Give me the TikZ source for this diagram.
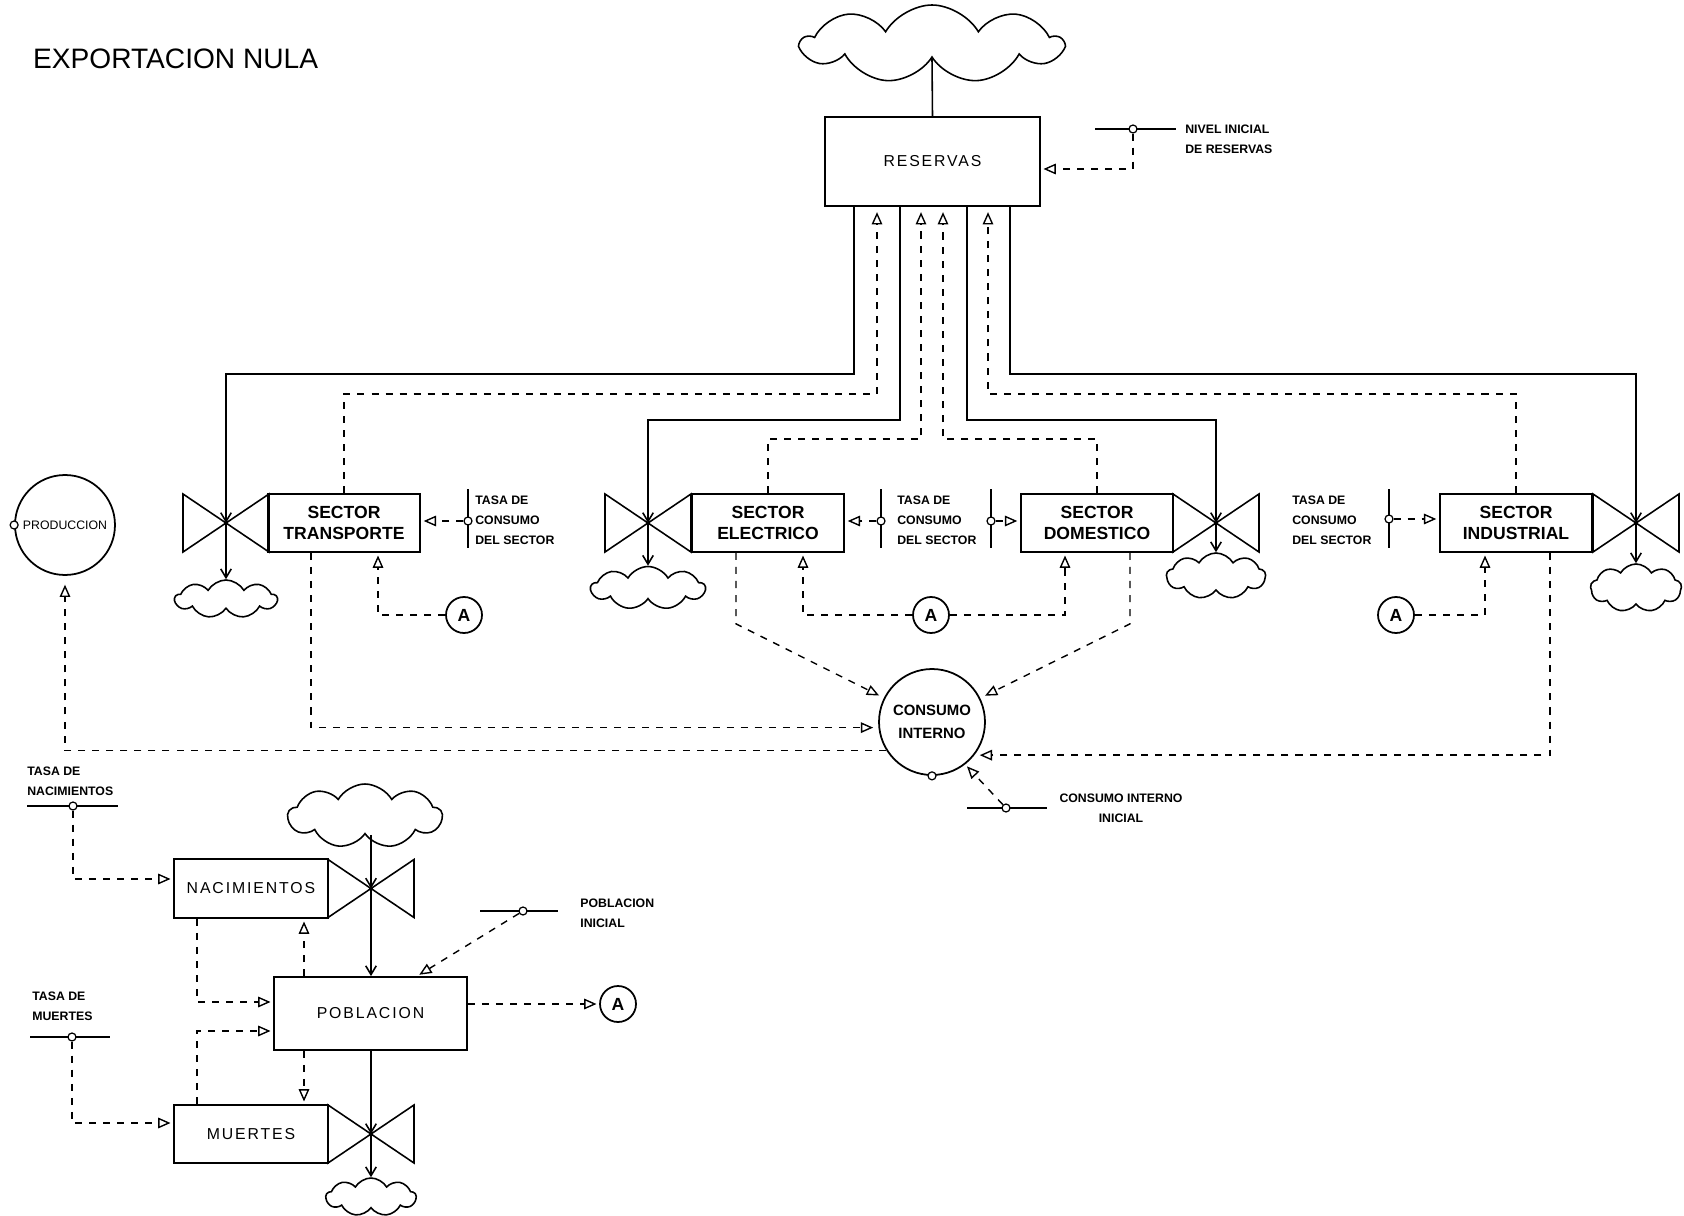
\documentclass[tikz,border=0pt]{standalone}
\usepackage{fontspec}
\setmainfont{Liberation Sans}
\newfontfamily\espaciada[LetterSpace=12]{Liberation Sans}
\usetikzlibrary{shapes.symbols,arrows.meta}

\begin{document}
\begin{tikzpicture}[x=0.02cm, y=-0.02cm,
    nivel/.style={draw, line width=1pt, inner sep=0pt, align=center},
    sector/.style={nivel, minimum width=3.05cm, minimum height=1.16cm, font=\fontsize{10}{12.2}\selectfont\bfseries},
    caja/.style={nivel, font=\fontsize{9}{11}\selectfont\espaciada},
    nube/.style={cloud, draw, line width=0.9pt, cloud puffs=9, cloud puff arc=120, inner sep=0pt},
    auxiliar/.style={circle, draw, line width=1pt, inner sep=0pt, align=center},
    conector/.style={circle, draw, line width=1pt, minimum size=0.72cm, inner sep=0pt, font=\fontsize{10}{10}\selectfont\bfseries},
    flujo/.style={line width=0.9pt, -{Straight Barb[length=5pt,width=6pt]}},
    info/.style={line width=0.8pt, dash pattern=on 4pt off 4pt, -{Triangle[open,length=7pt,width=6pt]}, shorten >=1.5pt},
    etiqueta/.style={font=\fontsize{7}{11.3}\selectfont\bfseries, align=left, inner sep=0pt},
    punto/.style={circle, draw, line width=0.7pt, fill=white, minimum size=0.16cm, inner sep=0pt},
    valvula/.pic={\draw[line width=0.9pt] (-43,-29) -- (-43,29) -- (43,-29) -- (43,29) -- cycle;}
  ]
  \useasboundingbox (0,0) rectangle (1684,1216);

  % Titulo
  \node[anchor=west, font=\fontsize{16}{16}\selectfont] (titulo) at (27,59) {EXPORTACION NULA};

  % Nivel de reservas con su fuente
  \node[caja, minimum width=4.3cm, minimum height=1.78cm] (res) at (932.5,161.5) {RESERVAS};
  \node[nube, minimum width=5.2cm, minimum height=1.56cm] (cR) at (932,44) {};
  \draw[line width=0.9pt] (cR.south) -- (res.north);

  % Nivel inicial de reservas
  \draw[line width=0.8pt] (1095,129) -- (1176,129);
  \node[punto] (ni) at (1133,129) {};
  \node[etiqueta, anchor=west] (lni) at (1185,139) {NIVEL INICIAL\\DE RESERVAS};
  \draw[info] (ni) |- (res.east |- 0,169);

  % Puntos de salida bajo las reservas
  \foreach \n/\x in {r1/854,r2/877,r3/900,r4/921,r5/943,r6/967,r7/988,r8/1010}
    \coordinate (\n) at (res.south -| \x,0);

  % Sectores de consumo
  \node[sector] (T) at (344,523) {SECTOR\\TRANSPORTE};
  \node[sector] (E) at (768,523) {SECTOR\\ELECTRICO};
  \node[sector] (D) at (1097,523) {SECTOR\\DOMESTICO};
  \node[sector] (I) at (1516,523) {SECTOR\\INDUSTRIAL};

  % Valvulas de los sectores
  \coordinate (vT) at (226,523);
  \coordinate (vE) at (648,523);
  \coordinate (vD) at (1216,523);
  \coordinate (vI) at (1636,523);
  \foreach \v in {vT,vE,vD,vI}
    \pic at (\v) {valvula};

  % Sumideros
  \node[nube, minimum width=2.04cm, minimum height=0.76cm] (cT) at (226,599) {};
  \node[nube, minimum width=2.28cm, minimum height=0.86cm] (cE) at (648,588) {};
  \node[nube, minimum width=1.98cm, minimum height=0.92cm] (cD) at (1216,576) {};
  \node[nube, minimum width=1.82cm, minimum height=0.96cm] (cI) at (1636,588) {};

  % Flujos desde las reservas
  \draw[flujo] (r1) -- ++(0,167) -| (vT);
  \draw[flujo] (r3) -- ++(0,213) -| (vE);
  \draw[flujo] (r6) -- ++(0,213) -| (vD);
  \draw[flujo] (r8) -- ++(0,167) -| (vI);
  \foreach \v/\c in {vT/cT,vE/cE,vD/cD,vI/cI}
    \draw[flujo] (\v) -- (\c);

  % Informacion de los sectores hacia las reservas
  \draw[info, shorten >=3pt] (T.north) -- ++(0,-99) -| (r2);
  \draw[info, shorten >=3pt] (E.north) -- ++(0,-54) -| (r4);
  \draw[info, shorten >=3pt] (D.north) -- ++(0,-54) -| (r5);
  \draw[info, shorten >=3pt] (I.north) -- ++(0,-99) -| (r7);

  % Tasas de consumo de cada sector
  \draw[line width=0.8pt] (468,489) -- (468,548);
  \node[punto] (tT) at (468,521) {};
  \node[etiqueta, anchor=west] (lT) at (475,520) {TASA DE\\CONSUMO\\DEL SECTOR};
  \draw[info] (tT) -- (T.east |- tT);

  \draw[line width=0.8pt] (881,489) -- (881,548);
  \draw[line width=0.8pt] (991,489) -- (991,548);
  \node[punto] (tE) at (881,521) {};
  \node[punto] (tD) at (991,521) {};
  \node[etiqueta, anchor=west] (lED) at (897,520) {TASA DE\\CONSUMO\\DEL SECTOR};
  \draw[info] (tE) -- (E.east |- tE);
  \draw[info] (tD) -- (D.west |- tD);

  \draw[line width=0.8pt] (1389,489) -- (1389,548);
  \node[punto] (tI) at (1389,519) {};
  \node[etiqueta, anchor=west] (lI) at (1292,520) {TASA DE\\CONSUMO\\DEL SECTOR};
  \draw[info] (tI) -- (I.west |- tI);

  % Conectores A hacia los sectores
  \node[conector] (aT) at (464,615) {A};
  \node[conector] (aED) at (931,615) {A};
  \node[conector] (aI) at (1396,615) {A};
  \draw[info] (aT) -| (T.south -| 378,0);
  \draw[info] (aED) -| (E.south -| 803,0);
  \draw[info] (aED) -| (D.south -| 1065,0);
  \draw[info] (aI) -| (I.south -| 1485,0);

  % Consumo interno y produccion
  \node[auxiliar, minimum size=2.12cm, font=\fontsize{8.5}{13.4}\selectfont\bfseries] (CI) at (932,722) {CONSUMO\\INTERNO};
  \node[auxiliar, minimum size=2cm, font=\fontsize{7}{7}\selectfont] (P) at (65,525) {PRODUCCION};
  \node[punto] (pP) at (P.west) {};
  \node[punto] (pCI) at (CI.south) {};

  \draw[info, shorten >=3pt] (T.south -| 311,0) |- (CI.186);
  \draw[info, shorten >=3pt] (E.south -| 736,0) -- ++(0,71) -- (CI);
  \draw[info, shorten >=3pt] (D.south -| 1130,0) -- ++(0,71) -- (CI);
  \draw[info, shorten >=3pt] (I.south -| 1550,0) |- (CI.-38);
  \draw[info, shorten >=5pt] (CI.212) -| (P.south);

  % Consumo interno inicial
  \draw[line width=0.8pt] (967,808) -- (1047,808);
  \node[punto] (ci0) at (1006,808) {};
  \node[etiqueta, align=center] (lci) at (1121,808) {CONSUMO INTERNO\\INICIAL};
  \draw[info] (ci0) -- (CI.-52);

  % Poblacion
  \node[nube, minimum width=3.08cm, minimum height=1.28cm] (cN) at (365,816) {};
  \node[caja, minimum width=3.08cm, minimum height=1.18cm] (N) at (251,888.5) {NACIMIENTOS};
  \node[caja, minimum width=3.86cm, minimum height=1.46cm] (Pob) at (370.5,1013.5) {POBLACION};
  \node[caja, minimum width=3.08cm, minimum height=1.16cm] (M) at (251,1134) {MUERTES};
  \node[nube, minimum width=1.8cm, minimum height=0.76cm] (cM) at (371,1197) {};
  \coordinate (vN) at (371,888.5);
  \coordinate (vM) at (371,1134);
  \pic at (vN) {valvula};
  \pic at (vM) {valvula};

  \draw[flujo] (cN.south -| vN) -- (vN);
  \draw[flujo] (vN) -- (Pob.north -| vN);
  \draw[flujo] (Pob.south -| vM) -- (vM);
  \draw[flujo] (vM) -- (cM);

  % Tasas de nacimientos y muertes
  \draw[line width=0.8pt] (27,806) -- (118,806);
  \node[punto] (tN) at (73,806) {};
  \node[etiqueta, anchor=west] (ltn) at (27,781) {TASA DE\\NACIMIENTOS};
  \draw[info] (tN) |- (N.west |- 0,879);

  \draw[line width=0.8pt] (30,1037) -- (110,1037);
  \node[punto] (tM) at (72,1037) {};
  \node[etiqueta, anchor=west] (ltm) at (32,1006) {TASA DE\\MUERTES};
  \draw[info] (tM) |- (M.west |- 0,1123);

  % Enlaces internos de la poblacion
  \draw[info] (N.south -| 197,0) |- (Pob.west |- 0,1002);
  \draw[info] (M.north -| 197,0) |- (Pob.west |- 0,1031);
  \draw[info] (Pob.north -| 304,0) -- (N.south -| 304,0);
  \draw[info] (Pob.south -| 304,0) -- (M.north -| 304,0);

  % Poblacion inicial
  \draw[line width=0.8pt] (480,911) -- (558,911);
  \node[punto] (pob0) at (523,911) {};
  \node[etiqueta, anchor=west] (lpob0) at (580,913) {POBLACION\\INICIAL};
  \draw[info] (pob0) -- (Pob.north -| 417,0);

  % Conector A de la poblacion
  \node[conector] (aP) at (618,1004) {A};
  \draw[info] (Pob.east |- aP) -- (aP);

\end{tikzpicture}
\end{document}
